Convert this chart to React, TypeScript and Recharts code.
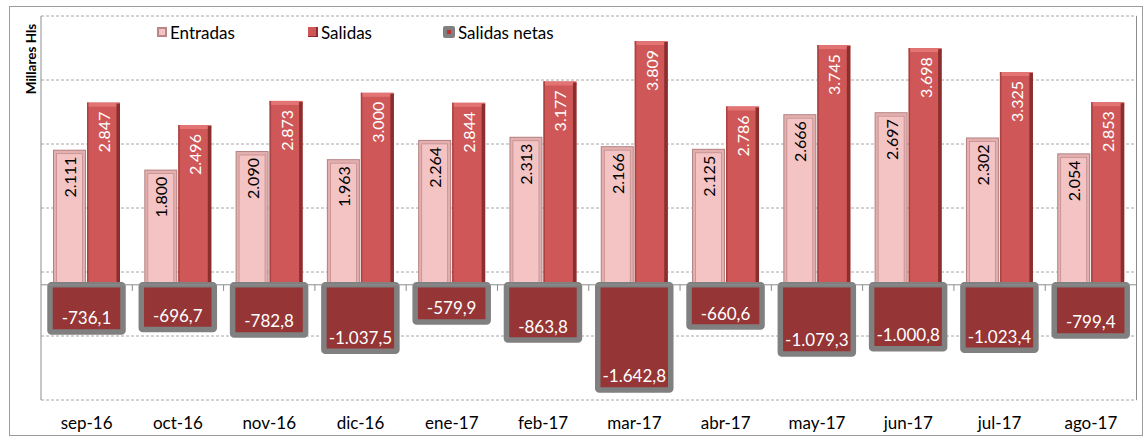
import React from 'react';
import { BarChart, Bar, XAxis, YAxis, CartesianGrid, ReferenceLine, LabelList, Legend } from 'recharts';

const categories = ['sep-16', 'oct-16', 'nov-16', 'dic-16', 'ene-17', 'feb-17', 'mar-17', 'abr-17', 'may-17', 'jun-17', 'jul-17', 'ago-17'];
const entradas = [2111, 1800, 2090, 1963, 2264, 2313, 2166, 2125, 2666, 2697, 2302, 2054];
const salidas = [2847, 2496, 2873, 3000, 2844, 3177, 3809, 2786, 3745, 3698, 3325, 2853];
const netas = [-736.1, -696.7, -782.8, -1037.5, -579.9, -863.8, -1642.8, -660.6, -1079.3, -1000.8, -1023.4, -799.4];
const yTicks = [-1800, -800, 200, 1200, 2200, 3200, 4200];
const boundaries = [1, 2, 3, 4, 5, 6, 7, 8, 9, 10, 11];

const data = categories.map((c, i) => ({
  mes: c,
  entradas: entradas[i],
  salidas: salidas[i],
  netas: netas[i],
  idx: i + 0.5,
}));

const FONT = 'Lato, "Open Sans", sans-serif';

const thousands = (s: string) => s.replace(/\B(?=(\d{3})+(?!\d))/g, '.');
const fmtInt = (v: number) => thousands(String(Math.round(v)));
const fmtNet = (v: number) => {
  const sign = v < 0 ? '-' : '';
  const a = Math.abs(v);
  const ip = Math.floor(a + 1e-9);
  const dp = Math.round((a - ip) * 10);
  return sign + thousands(String(ip)) + ',' + dp;
};

const norm = (p: any) => {
  const h = Number(p.height) || 0;
  const y = Number(p.y) || 0;
  return { x: Number(p.x), w: Number(p.width), top: h < 0 ? y + h : y, h: Math.abs(h) };
};

const EntradasShape = (props: any) => {
  const { x, w, top, h } = norm(props);
  return (
    <g>
      <rect x={x} y={top} width={w} height={h} fill="#B58080" />
      <rect x={x + 1} y={top + 1} width={w - 2} height={h - 1} fill="#E3AFAF" />
      <rect x={x + 3.5} y={top + 4} width={w - 7} height={h - 4} fill="#F4C4C4" stroke="#C08E8E" strokeWidth={0.8} />
    </g>
  );
};

const SalidasShape = (props: any) => {
  const { x, w, top, h } = norm(props);
  return (
    <g>
      <rect x={x} y={top} width={w} height={h} fill="#CF5757" />
      <rect x={x} y={top} width={w} height={4} fill="#E27474" />
      <rect x={x} y={top} width={1.5} height={h} fill="#A94242" />
      <rect x={x + w - 3.5} y={top + 1} width={3.5} height={h - 1} fill="#8A2E2E" />
    </g>
  );
};

const NetasShape = (props: any) => {
  const { x, w, top, h } = norm(props);
  return (
    <rect x={x} y={top} width={w} height={h} fill="#953535" stroke="#808080" strokeWidth={5.5} rx={1.5} strokeLinejoin="round" />
  );
};

const VerticalLabel = (color: string, offset: number) => (props: any) => {
  const { x, w, top } = norm(props);
  const cx = x + w / 2;
  const cy = top + offset;
  return (
    <text
      x={cx}
      y={cy}
      transform={`rotate(-90 ${cx} ${cy})`}
      textAnchor="end"
      dominantBaseline="central"
      fill={color}
      fontSize={16}
      fontFamily={FONT}
    >
      {fmtInt(Number(props.value))}
    </text>
  );
};

const NetLabel = (props: any) => {
  const { x, w, top, h } = norm(props);
  return (
    <text x={x + w / 2} y={top + h - 14} textAnchor="middle" dominantBaseline="central" fill="#FFFFFF" fontSize={17} fontFamily={FONT}>
      {fmtNet(Number(props.value))}
    </text>
  );
};

const YLabel = () => (
  <text x={30.5} y={59} transform="rotate(-90 30.5 59)" textAnchor="middle" dominantBaseline="central" fontSize={13.5} fontWeight="bold" fontFamily={FONT} fill="#000">
    Millares Hls
  </text>
);

const EmptyTick = () => <g />;

const legendItems = [
  { name: 'Entradas', left: 157, kind: 'e' },
  { name: 'Salidas', left: 308, kind: 's' },
  { name: 'Salidas netas', left: 443, kind: 'n' },
];

const LegendIcon = ({ kind }: { kind: string }) => {
  if (kind === 'e') {
    return <span style={{ display: 'inline-block', width: 10, height: 10, boxSizing: 'border-box', background: '#F4C4C4', border: '2px solid #B98585' }} />;
  }
  if (kind === 's') {
    return <span style={{ display: 'inline-block', width: 10, height: 10, boxSizing: 'border-box', background: '#CF5757', borderRight: '2px solid #8A2E2E', borderBottom: '1px solid #8A2E2E' }} />;
  }
  return (
    <span style={{ display: 'inline-flex', width: 12, height: 12, borderRadius: 2, background: '#808080', alignItems: 'center', justifyContent: 'center' }}>
      <span style={{ width: 4, height: 4, background: '#C03030' }} />
    </span>
  );
};

const LegendContent = () => (
  <div style={{ position: 'relative', width: 500, height: 20 }}>
    {legendItems.map((it) => (
      <div key={it.name} style={{ position: 'absolute', left: it.left - 157, top: 0, height: 20, display: 'flex', alignItems: 'center', whiteSpace: 'nowrap' }}>
        <LegendIcon kind={it.kind} />
        <span style={{ marginLeft: 3, fontSize: 17, fontFamily: FONT, color: '#000' }}>{it.name}</span>
      </div>
    ))}
  </div>
);

export default function App() {
  return (
    <div style={{ position: 'absolute', left: 0, top: 0, width: 1144, height: 437, background: '#fff', overflow: 'hidden' }}>
      <div style={{ position: 'absolute', left: 9, top: 6, width: 1134, height: 430, border: '1.5px solid #9C9C9C', boxSizing: 'border-box' }} />
      <BarChart
        width={1144}
        height={437}
        data={data}
        margin={{ top: 16, right: 7.5, left: 0, bottom: 0 }}
        barGap={1}
        style={{ position: 'absolute', left: 0, top: 0 }}
      >
        <CartesianGrid vertical={false} stroke="#A6A6A6" strokeDasharray="3 2" />
        <XAxis
          xAxisId="main"
          dataKey="mes"
          axisLine={false}
          tickLine={false}
          tickMargin={11}
          height={37}
          interval={0}
          tick={{ fontSize: 17, fill: '#000', fontFamily: FONT }}
        />
        <XAxis xAxisId="net" dataKey="mes" hide />
        <XAxis xAxisId="num" type="number" dataKey="idx" domain={[0, 12]} allowDataOverflow hide />
        <YAxis
          width={41}
          domain={[-1800, 4200]}
          ticks={yTicks}
          interval={0}
          tick={<EmptyTick />}
          tickLine={false}
          axisLine={{ stroke: '#8C8C8C' }}
          allowDataOverflow
          label={<YLabel />}
        />
        <ReferenceLine xAxisId="num" x={12} stroke="#8C8C8C" />
        <ReferenceLine xAxisId="main" y={0} stroke="#8C8C8C" />
        {boundaries.map((b) => (
          <ReferenceLine key={b} xAxisId="num" segment={[{ x: b, y: 0 }, { x: b, y: -95 }]} stroke="#8C8C8C" />
        ))}
        <Legend
          layout="vertical"
          align="center"
          verticalAlign="middle"
          content={<LegendContent />}
          wrapperStyle={{ position: 'absolute', left: 157, top: 22, width: 500, height: 20 }}
        />
        <Bar dataKey="entradas" name="Entradas" xAxisId="main" barSize={33} shape={<EntradasShape />} isAnimationActive={false}>
          <LabelList dataKey="entradas" content={VerticalLabel('#000000', 7)} />
        </Bar>
        <Bar dataKey="salidas" name="Salidas" xAxisId="main" barSize={33} shape={<SalidasShape />} isAnimationActive={false}>
          <LabelList dataKey="salidas" content={VerticalLabel('#FFFFFF', 9)} />
        </Bar>
        <Bar dataKey="netas" name="Salidas netas" xAxisId="net" barSize={73} shape={<NetasShape />} isAnimationActive={false}>
          <LabelList dataKey="netas" content={NetLabel} />
        </Bar>
      </BarChart>
    </div>
  );
}
